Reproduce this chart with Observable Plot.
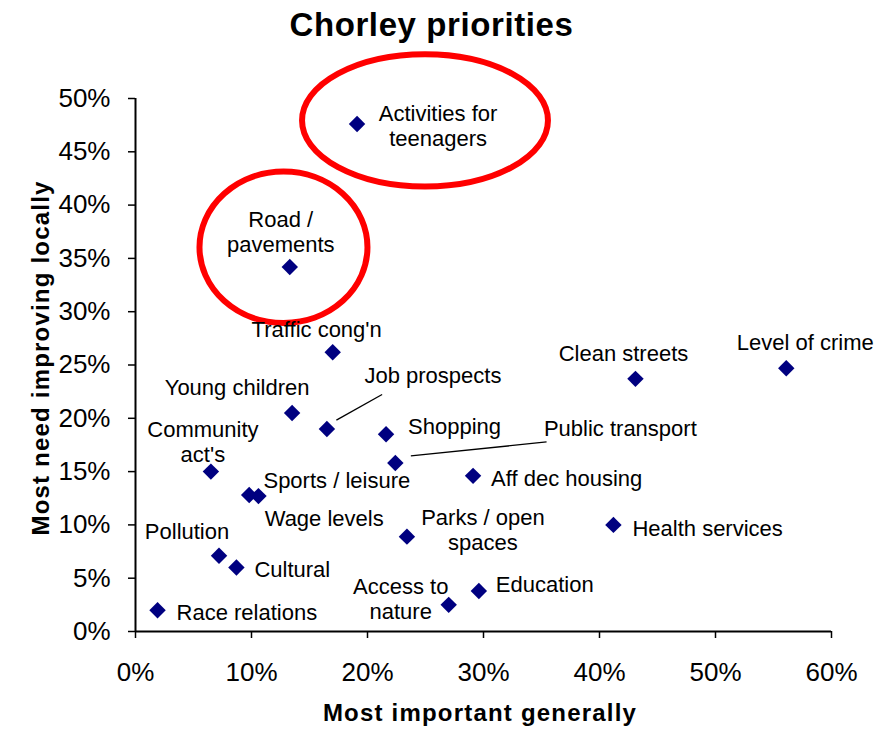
<!DOCTYPE html>
<html>
<head>
<meta charset="utf-8">
<script src="https://cdn.jsdelivr.net/npm/d3@7"></script>
<script src="https://cdn.jsdelivr.net/npm/@observablehq/plot@0.6"></script>
<style>
  body { margin: 0; background: #fff; font-family: "Liberation Sans", Arial, sans-serif; }
  #title { width: 863px; padding-right: 15px; height: 50px; line-height: 50px; text-align: center;
           font-size: 33px; font-weight: bold; letter-spacing: 0.6px; color: #000; }
  #chart svg { overflow: visible; }
</style>
</head>
<body>
<div id="title">Chorley priorities</div>
<div id="chart"></div>
<script>
// ---- Data (percentages) ----
const issues = ["Activities for teenagers", "Road / pavements", "Traffic cong'n", "Young children",
  "Job prospects", "Shopping", "Public transport", "Community act's", "Sports / leisure", "Wage levels",
  "Parks / open spaces", "Aff dec housing", "Health services", "Clean streets", "Level of crime",
  "Pollution", "Cultural", "Race relations", "Access to nature", "Education"];
const labelText = ["Activities for\nteenagers", "Road /\npavements", "Traffic cong'n", "Young children",
  "Job prospects", "Shopping", "Public transport", "Community\nact's", "Sports / leisure", "Wage levels",
  "Parks / open\nspaces", "Aff dec housing", "Health services", "Clean streets", "Level of crime",
  "Pollution", "Cultural", "Race relations", "Access to\nnature", "Education"];
const mostImportant = [19.1, 13.3, 17.0, 13.5, 16.5, 21.6, 22.4, 6.5, 10.6, 9.8,
  23.4, 29.1, 41.2, 43.1, 56.1, 7.2, 8.7, 1.9, 27.0, 29.6];
const needImproving = [47.6, 34.2, 26.2, 20.5, 19.0, 18.5, 15.8, 15.0, 12.7, 12.8,
  8.9, 14.6, 10.0, 23.7, 24.7, 7.1, 6.0, 2.0, 2.5, 3.8];
const xTicks = [0, 10, 20, 30, 40, 50, 60];
const yTicks = [0, 5, 10, 15, 20, 25, 30, 35, 40, 45, 50];
// highlighted groups: centre and radii in data units
const highlightCx = [25.0, 12.8];
const highlightCy = [47.9, 36.0];
const highlightRx = [10.6, 7.24];
const highlightRy = [6.2, 7.1];

// ---- Layout (label offsets in px) ----
const labelLayout = [
  {dx: 81, dy: 1, a: "middle"}, {dx: -9, dy: -35, a: "middle"}, {dx: -16, dy: -23, a: "middle"},
  {dx: -55, dy: -26, a: "middle"}, {dx: 106, dy: -54, a: "middle"}, {dx: 22, dy: -8, a: "start"},
  {dx: 225, dy: -35, a: "middle"}, {dx: -8, dy: -30, a: "middle"}, {dx: 5, dy: -16, a: "start"},
  {dx: 75, dy: 23, a: "middle"}, {dx: 76, dy: -7.5, a: "middle"}, {dx: 18, dy: 2, a: "start"},
  {dx: 19, dy: 3, a: "start"}, {dx: -12, dy: -26, a: "middle"}, {dx: 19, dy: -26, a: "middle"},
  {dx: -32, dy: -25, a: "middle"}, {dx: 18, dy: 1, a: "start"}, {dx: 19, dy: 2, a: "start"},
  {dx: -48, dy: -6.5, a: "middle"}, {dx: 17, dy: -7, a: "start"}
];
const leaderLines = [
  {name: "Job prospects", x1: 10, y1: -8.3, x2: 55.7, y2: -34},
  {name: "Public transport", x1: 16, y1: -6.6, x2: 151.7, y2: -20.6}
];

const FONT = "'Liberation Sans', Arial, sans-serif";
const idx = issues.map((_, i) => i);

function highlightMark(index, scales) {
  const g = d3.create("svg:g");
  highlightCx.forEach((cx, k) => {
    const x0 = scales.x(cx), y0 = scales.y(highlightCy[k]);
    g.append("ellipse")
      .attr("cx", x0).attr("cy", y0)
      .attr("rx", scales.x(cx + highlightRx[k]) - x0)
      .attr("ry", scales.y(highlightCy[k] - highlightRy[k]) - y0)
      .attr("fill", "none").attr("stroke", "#ff0000").attr("stroke-width", 6);
  });
  return g.node();
}
function leaderMark(index, scales) {
  const g = d3.create("svg:g");
  for (const L of leaderLines) {
    const i = issues.indexOf(L.name);
    const px = scales.x(mostImportant[i]), py = scales.y(needImproving[i]);
    g.append("line")
      .attr("x1", px + L.x1).attr("y1", py + L.y1)
      .attr("x2", px + L.x2).attr("y2", py + L.y2)
      .attr("stroke", "#000").attr("stroke-width", 1.3);
  }
  return g.node();
}

const plot = Plot.plot({
  width: 878,
  height: 679,
  marginLeft: 135,
  marginRight: 47,
  marginTop: 48,
  marginBottom: 98,
  style: {fontFamily: FONT, fontSize: "22px", background: "#fff", color: "#000"},
  x: {domain: [0, 60]},
  y: {domain: [0, 50]},
  marks: [
    Plot.axisX({ticks: xTicks, tickFormat: d => d + "%", tickSize: 7, tickPadding: 24,
      fontSize: 26, label: null, strokeWidth: 1.5}),
    Plot.axisY({ticks: yTicks, tickFormat: d => d + "%", tickSize: 7, tickPadding: 18,
      fontSize: 26, label: null, strokeWidth: 1.5}),
    Plot.ruleX([0], {stroke: "#000", strokeWidth: 2}),
    Plot.ruleY([0], {stroke: "#000", strokeWidth: 2}),
    highlightMark,
    leaderMark,
    Plot.dot(idx, {x: i => mostImportant[i], y: i => needImproving[i], symbol: "diamond2",
      r: 7.4, fill: "#000080", stroke: "none"}),
    ...idx.map(i => Plot.text([i], {
      x: j => mostImportant[j], y: j => needImproving[j], text: j => labelText[j],
      dx: labelLayout[i].dx, dy: labelLayout[i].dy, textAnchor: labelLayout[i].a,
      lineAnchor: "middle", lineHeight: 1.14, fontSize: 22, fill: "#000"
    })),
    Plot.text(["Most important generally"], {frameAnchor: "bottom", dx: -3.5, dy: 82,
      lineAnchor: "middle", fontSize: 24, fontWeight: "bold", fill: "#000"}),
    Plot.text(["Most need improving locally"], {frameAnchor: "left", rotate: -90, dx: -94.5, dy: -7,
      textAnchor: "middle", lineAnchor: "middle", fontSize: 24, fontWeight: "bold", fill: "#000"})
  ]
});
document.getElementById("chart").appendChild(plot);
d3.select(plot).selectAll("text")
  .filter(function () { return this.textContent === "Most important generally" || this.textContent === "Most need improving locally"; })
  .style("letter-spacing", "1.2px");
</script>
</body>
</html>
